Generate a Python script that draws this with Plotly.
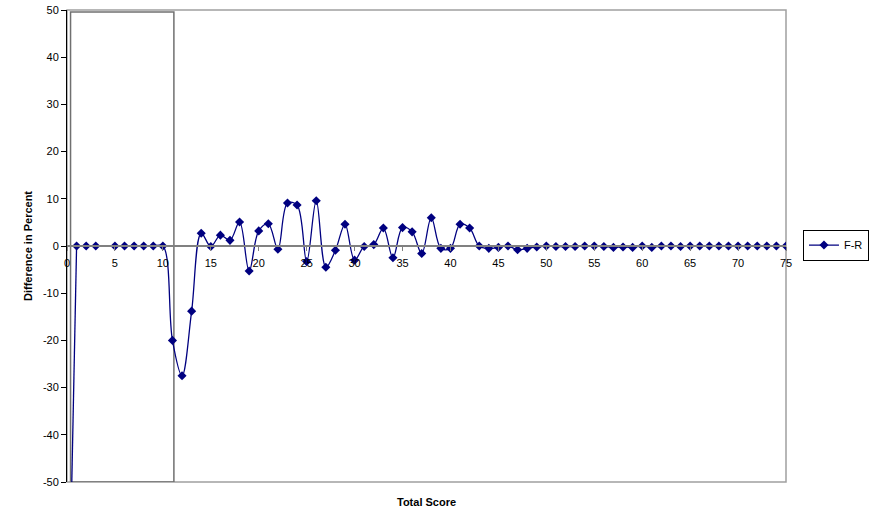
import plotly.graph_objects as go

total_score = [0, 1, 2, 3, 5, 6, 7, 8, 9, 10,
               11, 12, 13, 14, 15, 16, 17, 18, 19, 20,
               21, 22, 23, 24, 25, 26, 27, 28, 29, 30,
               31, 32, 33, 34, 35, 36, 37, 38, 39, 40,
               41, 42, 43, 44, 45, 46, 47, 48, 49, 50,
               51, 52, 53, 54, 55, 56, 57, 58, 59, 60,
               61, 62, 63, 64, 65, 66, 67, 68, 69, 70,
               71, 72, 73, 74, 75]
f_minus_r = [-100, 0, 0, 0, 0, 0, 0, 0, 0, 0,
             -20, -27.5, -13.8, 2.7, -0.1, 2.3, 1.2, 5.1, -5.3, 3.2,
             4.7, -0.7, 9.1, 8.7, -3.3, 9.6, -4.5, -0.9, 4.6, -3.0,
             -0.1, 0.3, 3.8, -2.5, 3.9, 3.0, -1.6, 6.0, -0.5, -0.5,
             4.6, 3.8, 0, -0.5, -0.3, 0, -0.8, -0.5, -0.2, 0,
             -0.1, -0.1, -0.1, 0, 0, -0.1, -0.3, -0.2, -0.3, 0,
             -0.3, 0, 0, -0.1, 0, 0, 0, 0, 0, 0,
             0, 0, 0, 0, 0]
series_name = "F-R"
x_ticks = list(range(0, 76, 5))
y_ticks = list(range(-50, 51, 10))
y_tick_text = [str(t) for t in y_ticks]

FONT = "Arial, Liberation Sans, sans-serif"
NAVY = "#000080"

fig = go.Figure()
# first segment (off-scale point) drawn straight
fig.add_trace(go.Scatter(
    x=total_score[:2], y=f_minus_r[:2], mode="lines", showlegend=False,
    line=dict(color=NAVY, width=1.3), hoverinfo="skip",
))
fig.add_trace(go.Scatter(
    x=total_score[1:], y=f_minus_r[1:], name=series_name, mode="lines+markers",
    line=dict(color=NAVY, width=1.3, shape="spline", smoothing=1),
    marker=dict(symbol="diamond", size=7, color=NAVY),
))

fig.update_layout(
    width=877, height=517,
    margin=dict(l=67, r=91, t=10, b=35, autoexpand=False),
    paper_bgcolor="white", plot_bgcolor="white",
    font=dict(family=FONT, size=11, color="black"),
    showlegend=True,
    legend=dict(x=1.0236, y=0.502, xanchor="left", yanchor="middle",
                bordercolor="black", borderwidth=1, bgcolor="white",
                font=dict(family=FONT, size=11), itemwidth=30,
                tracegroupgap=0),
    xaxis=dict(range=[0, 75], tickvals=x_ticks, ticktext=[str(t) for t in x_ticks],
               showgrid=False, zeroline=False, showline=True, linecolor="#808080",
               linewidth=1.5, ticks="outside", ticklen=4, tickcolor="#808080",
               ticklabelstandoff=3,
               anchor="free", position=0.5, automargin=False,
               tickfont=dict(family=FONT, size=11)),
    yaxis=dict(range=[-50, 50], tickvals=y_ticks, ticktext=y_tick_text,
               showgrid=False, zeroline=False,
               showline=True, linecolor="black", linewidth=1, ticks="outside",
               ticklen=5, tickcolor="black", automargin=False,
               tickfont=dict(family=FONT, size=11),
               title=dict(text="<b>Difference in Percent</b>", standoff=8,
                          font=dict(family=FONT, size=11))),
    shapes=[
        dict(type="rect", xref="paper", yref="paper", x0=0, x1=1, y0=0, y1=1,
             line=dict(color="#A0A0A0", width=1.5), layer="below"),
        dict(type="rect", xref="x", yref="y", x0=0.37, x1=11.15, y0=-50, y1=49.6,
             line=dict(color="#707070", width=1.5), layer="below"),
    ],
    annotations=[
        dict(text="<b>Total Score</b>", xref="paper", yref="paper", x=0.5, y=-0.042,
             xanchor="center", yanchor="middle", showarrow=False,
             font=dict(family=FONT, size=11)),
    ],
)

# remove the browser's default 8px page margin so the figure sits at (0, 0)
fig.write_html("out.html", config={"displayModeBar": False},
               post_script="document.body.style.margin='0';")
